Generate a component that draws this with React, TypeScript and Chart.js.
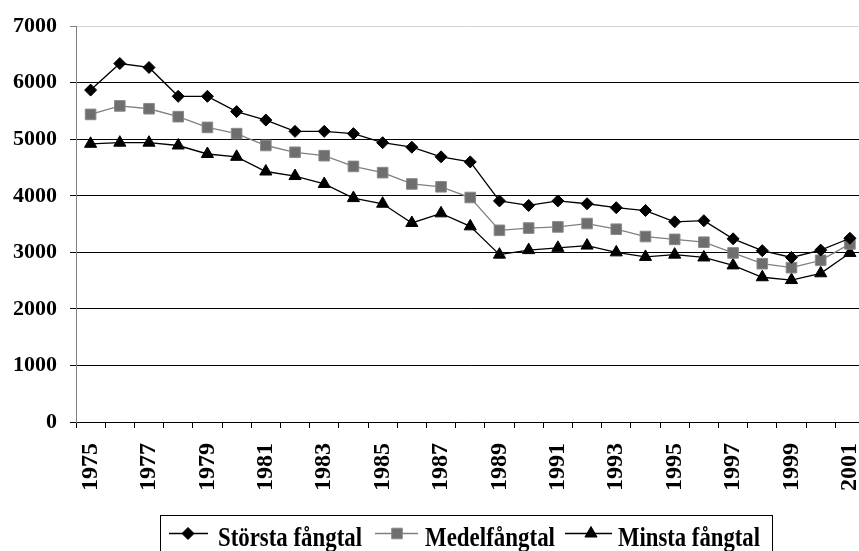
import React, { useEffect, useRef } from 'react';
import { Chart, registerables } from 'chart.js';

Chart.register(...registerables);

const years = [
  '1975', '1976', '1977', '1978', '1979', '1980', '1981', '1982', '1983', '1984',
  '1985', '1986', '1987', '1988', '1989', '1990', '1991', '1992', '1993', '1994',
  '1995', '1996', '1997', '1998', '1999', '2000', '2001',
];

const storstaFangtal = [
  5870, 6340, 6270, 5760, 5760, 5490, 5340, 5140, 5140, 5100,
  4940, 4860, 4690, 4600, 3910, 3830, 3910, 3860, 3790, 3740,
  3540, 3560, 3240, 3030, 2910, 3040, 3250,
];

const medelFangtal = [
  5440, 5590, 5540, 5400, 5210, 5100, 4890, 4770, 4710, 4520,
  4410, 4210, 4160, 3970, 3390, 3430, 3450, 3510, 3410, 3280,
  3230, 3180, 2990, 2800, 2730, 2860, 3150,
];

const minstaFangtal = [
  4920, 4940, 4940, 4890, 4740, 4690, 4430, 4350, 4210, 3960,
  3860, 3520, 3690, 3460, 2960, 3040, 3080, 3120, 3000, 2920,
  2960, 2910, 2770, 2560, 2510, 2630, 2990,
];

const yMin = 0;
const yMax = 7000;
const yStep = 1000;

const seriesLabels = ['Största fångtal', 'Medelfångtal', 'Minsta fångtal'];

const SERIF = '"Liberation Serif", "Times New Roman", serif';

function drawMarker(ctx: CanvasRenderingContext2D, style: string, x: number, y: number, r: number, fill: string, stroke: string) {
  ctx.save();
  ctx.fillStyle = fill;
  ctx.strokeStyle = stroke;
  ctx.lineWidth = 1;
  ctx.beginPath();
  if (style === 'rectRot') {
    ctx.moveTo(x, y - r);
    ctx.lineTo(x + r, y);
    ctx.lineTo(x, y + r);
    ctx.lineTo(x - r, y);
    ctx.closePath();
  } else if (style === 'rect') {
    const s = r * Math.SQRT1_2;
    ctx.rect(x - s, y - s, 2 * s, 2 * s);
  } else {
    ctx.moveTo(x, y - r);
    ctx.lineTo(x + r * Math.sin(Math.PI * 2 / 3), y + r / 2);
    ctx.lineTo(x - r * Math.sin(Math.PI * 2 / 3), y + r / 2);
    ctx.closePath();
  }
  ctx.fill();
  ctx.stroke();
  ctx.restore();
}

const boxLegendPlugin = {
  id: 'boxLegend',
  afterDraw(chart: any) {
    const ctx: CanvasRenderingContext2D = chart.ctx;
    ctx.save();
    ctx.strokeStyle = '#000';
    ctx.lineWidth = 1;
    ctx.strokeRect(160.5, 515.5, 612, 60);

    const items = [
      { label: seriesLabels[0], l0: 169, l1: 208, mx: 188, tx: 218, tw: 144, style: 'rectRot', line: '#000', fill: '#000', stroke: '#000', r: 6 },
      { label: seriesLabels[1], l0: 375, l1: 418, mx: 397, tx: 425, tw: 130, style: 'rect', line: '#808080', fill: '#6e6e6e', stroke: '#8a8a8a', r: 7.5 },
      { label: seriesLabels[2], l0: 565, l1: 612, mx: 591, tx: 618, tw: 142, style: 'triangle', line: '#000', fill: '#000', stroke: '#000', r: 7 },
    ];
    const ly = 533;
    const baseline = 546;
    ctx.font = `bold 27px ${SERIF}`;
    ctx.textBaseline = 'alphabetic';
    ctx.textAlign = 'left';
    for (const it of items) {
      ctx.strokeStyle = it.line;
      ctx.lineWidth = 1.3;
      ctx.beginPath();
      ctx.moveTo(it.l0, ly + 0.5);
      ctx.lineTo(it.l1, ly + 0.5);
      ctx.stroke();
      drawMarker(ctx, it.style, it.mx, ly + 0.5, it.r, it.fill, it.stroke);
      const w = ctx.measureText(it.label).width;
      ctx.save();
      ctx.translate(it.tx, baseline);
      ctx.scale(it.tw / w, 1);
      ctx.fillStyle = '#000';
      ctx.fillText(it.label, 0, 0);
      ctx.restore();
    }
    ctx.restore();
  },
};

export default function App() {
  const canvasRef = useRef<HTMLCanvasElement | null>(null);

  useEffect(() => {
    const canvas = canvasRef.current;
    if (!canvas) return;
    const chart = new Chart(canvas, {
      type: 'line',
      data: {
        labels: years,
        datasets: [
          {
            label: seriesLabels[0],
            data: storstaFangtal,
            borderColor: '#000',
            borderWidth: 1.3,
            pointStyle: 'rectRot',
            pointRadius: 6,
            pointBackgroundColor: '#000',
            pointBorderColor: '#000',
            pointBorderWidth: 1,
            tension: 0,
          },
          {
            label: seriesLabels[1],
            data: medelFangtal,
            borderColor: '#808080',
            borderWidth: 1.3,
            pointStyle: 'rect',
            pointRadius: 7.5,
            pointBackgroundColor: '#6e6e6e',
            pointBorderColor: '#8a8a8a',
            pointBorderWidth: 1,
            tension: 0,
          },
          {
            label: seriesLabels[2],
            data: minstaFangtal,
            borderColor: '#000',
            borderWidth: 1.3,
            pointStyle: 'triangle',
            pointRadius: 7,
            pointBackgroundColor: '#000',
            pointBorderColor: '#000',
            pointBorderWidth: 1,
            tension: 0,
          },
        ],
      },
      options: {
        animation: false,
        responsive: false,
        devicePixelRatio: 1,
        layout: { padding: { top: 20, left: 0, right: 0, bottom: 0 } },
        plugins: {
          legend: { display: false },
          tooltip: { enabled: false },
        },
        scales: {
          x: {
            type: 'category',
            offset: true,
            grid: {
              offset: true,
              drawOnChartArea: false,
              drawTicks: true,
              tickLength: 6,
              color: '#000',
            },
            border: { color: '#000', width: 1 },
            ticks: {
              autoSkip: false,
              minRotation: 90,
              maxRotation: 90,
              padding: 15,
              color: '#000',
              font: { family: SERIF, weight: 'bold', size: 24 },
              callback: (_v: any, i: number) => (i % 2 === 0 ? years[i] : ''),
            },
            afterFit: (scale: any) => {
              scale.height = 129;
              scale.paddingRight = 0;
              scale.paddingLeft = 0;
            },
          },
          y: {
            min: yMin,
            max: yMax,
            ticks: {
              stepSize: yStep,
              padding: 13,
              color: '#000',
              font: { family: SERIF, weight: 'bold', size: 22 },
              callback: (v: any) => String(v),
            },
            grid: {
              color: (c: any) => (c.tick && c.tick.value === yMax ? '#d4d4d4' : '#000'),
              tickColor: (c: any) => (c.tick && c.tick.value === yMax ? '#808080' : '#000'),
              tickLength: 6,
              lineWidth: 1,
            },
            border: { color: '#808080', width: 1 },
            afterFit: (scale: any) => {
              scale.width = 76;
            },
          },
        },
      },
      plugins: [boxLegendPlugin],
    } as any);
    return () => chart.destroy();
  }, []);

  return (
    <div style={{ position: 'fixed', left: 0, top: 0, width: 859, height: 551, overflow: 'hidden', background: '#fff' }}>
      <canvas ref={canvasRef} width={873} height={551} style={{ display: 'block', width: 873, height: 551 }} />
    </div>
  );
}
